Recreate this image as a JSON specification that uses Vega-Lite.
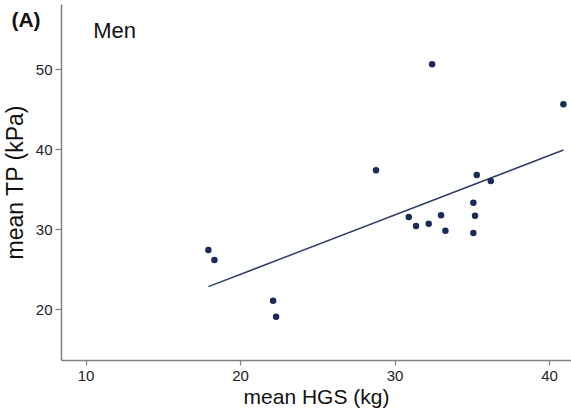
{
  "$schema": "https://vega.github.io/schema/vega-lite/v6.json",
  "width": 510,
  "height": 356,
  "autosize": {"type": "none"},
  "padding": {"left": 61, "top": 4, "right": 0, "bottom": 54},
  "background": "white",
  "config": {
    "view": {"stroke": null},
    "font": "Liberation Sans",
    "axis": {
      "grid": false,
      "domainColor": "#7f7f7f",
      "domainWidth": 1.5,
      "tickColor": "#7f7f7f",
      "tickWidth": 1.2,
      "labelColor": "#222222",
      "titleColor": "#111111",
      "labelFont": "Liberation Sans",
      "titleFont": "Liberation Sans",
      "titleFontWeight": "normal"
    }
  },
  "datasets": {
    "pts": [
      {"hgs": 17.95, "tp": 27.41},
      {"hgs": 18.34, "tp": 26.16},
      {"hgs": 22.14, "tp": 21.08},
      {"hgs": 22.33, "tp": 19.08},
      {"hgs": 30.92, "tp": 31.54},
      {"hgs": 31.39, "tp": 30.41},
      {"hgs": 32.21, "tp": 30.7},
      {"hgs": 33.01, "tp": 31.75},
      {"hgs": 33.29, "tp": 29.83},
      {"hgs": 35.1, "tp": 33.33},
      {"hgs": 35.21, "tp": 31.7},
      {"hgs": 35.1, "tp": 29.54},
      {"hgs": 36.23, "tp": 36.04},
      {"hgs": 32.43, "tp": 50.63},
      {"hgs": 40.93, "tp": 45.63},
      {"hgs": 28.8, "tp": 37.38},
      {"hgs": 35.32, "tp": 36.79}
    ],
    "fit": [
      {"hgs": 17.95, "tp": 22.83},
      {"hgs": 40.93, "tp": 39.91}
    ]
  },
  "layer": [
    {
      "data": {"name": "fit"},
      "mark": {"type": "line", "color": "#2f3d68", "strokeWidth": 1.5},
      "encoding": {
        "x": {
          "field": "hgs", "type": "quantitative",
          "scale": {"domain": [8.41, 41.42], "nice": false, "zero": false},
          "axis": {
            "title": "mean HGS (kg)", "values": [10, 20, 30, 40],
            "labelFontSize": 15, "titleFontSize": 21, "tickSize": 5,
            "labelPadding": 3, "titlePadding": 3
          }
        },
        "y": {
          "field": "tp", "type": "quantitative",
          "scale": {"domain": [13.66, 58.17], "nice": false, "zero": false},
          "axis": {
            "title": "mean TP (kPa)", "values": [20, 30, 40, 50],
            "labelFontSize": 15, "titleFontSize": 23, "tickSize": 6,
            "labelPadding": 3, "titlePadding": 8
          }
        }
      }
    },
    {
      "data": {"name": "pts"},
      "mark": {"type": "circle", "color": "#1b2a56", "opacity": 1, "size": 42},
      "encoding": {
        "x": {"field": "hgs", "type": "quantitative"},
        "y": {"field": "tp", "type": "quantitative"}
      }
    },
    {
      "data": {"values": [{"label": "Men"}]},
      "mark": {"type": "text", "align": "left", "baseline": "middle", "fontSize": 22, "color": "#111111"},
      "encoding": {
        "x": {"datum": 10.49},
        "y": {"datum": 54.79},
        "text": {"field": "label"}
      }
    },
    {
      "data": {"values": [{"label": "(A)"}]},
      "mark": {"type": "text", "align": "left", "baseline": "middle", "fontSize": 21, "fontWeight": "bold", "color": "#111111"},
      "encoding": {
        "x": {"datum": 5.2},
        "y": {"datum": 56.04},
        "text": {"field": "label"}
      }
    }
  ]
}
